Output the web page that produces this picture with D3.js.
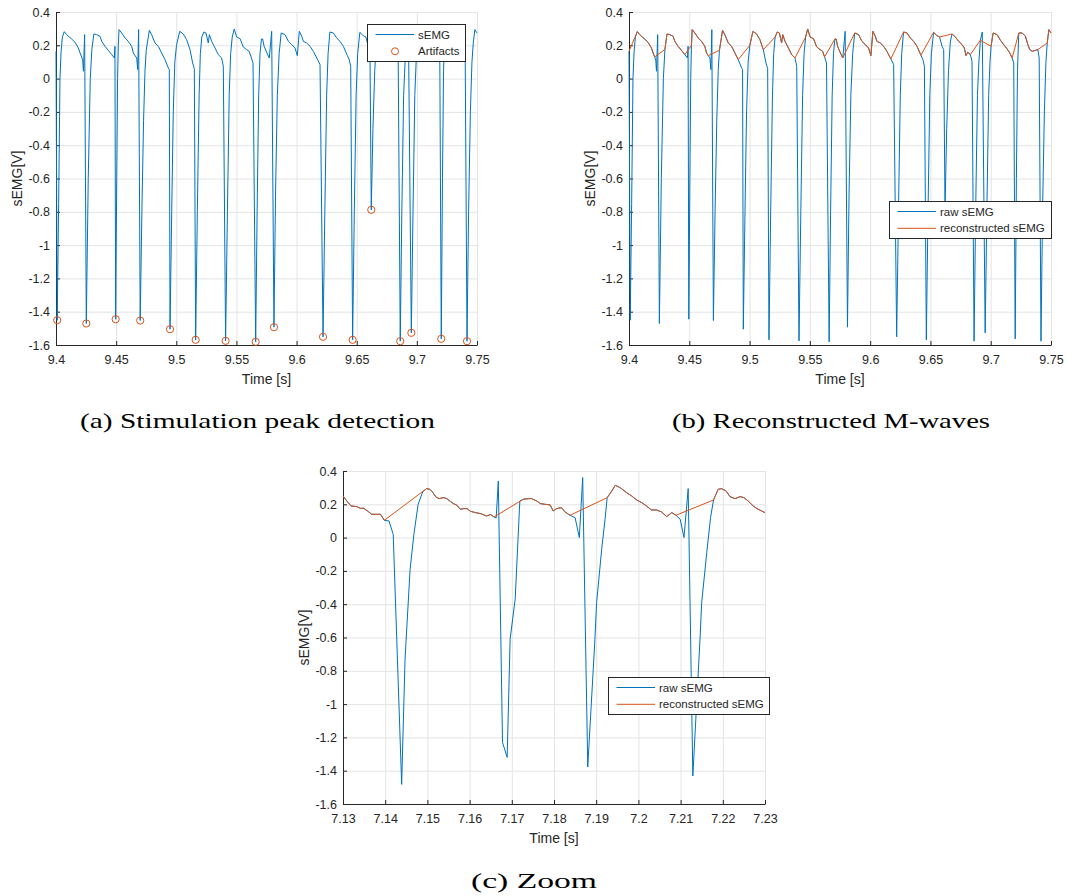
<!DOCTYPE html>
<html>
<head>
<meta charset="utf-8">
<script src="https://cdn.jsdelivr.net/npm/d3@7"></script>
<style>
body { margin: 0; background: #fff; }
svg { display: block; font-family: "Liberation Sans", Arial, sans-serif; }
</style>
</head>
<body>
<svg id="fig" width="1067" height="896"></svg>
<script>
// ---- data ----
const yTicks = [-1.6, -1.4, -1.2, -1, -0.8, -0.6, -0.4, -0.2, 0, 0.2, 0.4];
const xTicksAB = [9.4, 9.45, 9.5, 9.55, 9.6, 9.65, 9.7, 9.75];
const xTicksC = [7.13, 7.14, 7.15, 7.16, 7.17, 7.18, 7.19, 7.2, 7.21, 7.22, 7.23];

// raw sEMG, 9.40 - 9.75 s  [time, volts]
const semgAB = [
  [9.4000,0.164],[9.4010,-1.451],[9.4022,-0.750],[9.4033,0.000],[9.4042,0.160],[9.4053,0.250],[9.4069,0.282],
  [9.4089,0.264],[9.4110,0.250],[9.4130,0.238],[9.4158,0.218],[9.4186,0.184],[9.4200,0.154],[9.4213,0.130],
  [9.4222,0.110],[9.4228,0.044],[9.4238,0.264],[9.4252,-1.471],[9.4268,-0.600],[9.4285,0.000],[9.4298,0.175],
  [9.4315,0.268],[9.4338,0.264],[9.4366,0.254],[9.4380,0.224],[9.4407,0.194],[9.4435,0.170],[9.4463,0.144],
  [9.4485,0.124],[9.4490,0.194],[9.4496,-1.445],[9.4505,-0.600],[9.4512,0.000],[9.4518,0.200],
  [9.4524,0.294],[9.4546,0.274],[9.4574,0.244],[9.4601,0.224],[9.4629,0.194],[9.4643,0.154],[9.4657,0.138],
  [9.4671,0.124],[9.4679,0.054],[9.4687,0.294],[9.4700,-1.453],[9.4714,-0.800],[9.4728,-0.250],[9.4740,0.050],[9.4750,0.170],
  [9.4776,0.290],[9.4795,0.264],[9.4823,0.214],[9.4851,0.194],[9.4878,0.154],[9.4906,0.114],
  [9.4934,0.064],[9.4942,0.054],[9.4948,-1.505],[9.4962,-0.800],[9.4975,-0.200],[9.4988,0.100],[9.5002,0.200],
  [9.5028,0.284],[9.5058,0.268],[9.5086,0.234],[9.5114,0.174],
  [9.5136,0.094],[9.5150,0.060],[9.5161,-1.569],[9.5175,-0.800],[9.5190,-0.100],[9.5200,0.150],[9.5212,0.250],
  [9.5230,0.280],[9.5247,0.274],[9.5266,0.214],[9.5275,0.264],[9.5294,0.224],[9.5322,0.184],[9.5349,0.144],[9.5377,0.124],
  [9.5391,0.074],[9.5410,-1.575],[9.5425,-0.800],[9.5440,-0.100],[9.5452,0.150],[9.5465,0.250],
  [9.5482,0.298],[9.5502,0.250],[9.5530,0.240],[9.5557,0.190],[9.5585,0.174],[9.5605,0.165],[9.5622,0.130],
  [9.5638,0.094],[9.5660,-1.581],[9.5672,-0.800],[9.5685,-0.100],[9.5696,0.150],[9.5708,0.238],
  [9.5718,0.238],[9.5730,0.194],[9.5750,0.160],[9.5773,0.124],
  [9.5793,0.284],[9.5812,-1.493],[9.5825,-0.700],[9.5840,-0.100],[9.5855,0.150],[9.5872,0.274],
  [9.5904,0.264],[9.5932,0.224],[9.5960,0.204],[9.5987,0.184],[9.6006,0.138],[9.6023,0.284],[9.6043,0.254],
  [9.6056,0.224],[9.6084,0.214],[9.6112,0.194],[9.6139,0.164],[9.6172,0.118],
  [9.6195,0.084],[9.6220,-1.551],[9.6235,-0.800],[9.6250,-0.100],[9.6262,0.150],[9.6277,0.280],
  [9.6306,0.274],[9.6333,0.244],[9.6361,0.224],[9.6389,0.194],[9.6421,0.140],
  [9.6438,0.114],[9.6450,0.074],[9.6466,-1.569],[9.6480,-0.800],[9.6495,-0.100],[9.6508,0.150],[9.6526,0.278],
  [9.6554,0.258],[9.6576,0.250],
  [9.6596,0.194],[9.6610,0.174],[9.6621,-0.788],[9.6635,-0.300],[9.6650,0.050],[9.6665,0.220],[9.6679,0.268],
  [9.6707,0.250],[9.6734,0.224],[9.6762,0.204],[9.6781,0.184],[9.6795,0.138],[9.6809,0.158],[9.6831,0.144],
  [9.6845,0.104],[9.6862,-1.577],[9.6875,-0.800],[9.6890,-0.100],[9.6902,0.100],[9.6914,0.230],
  [9.6930,0.280],[9.6954,-1.527],[9.6968,-0.800],[9.6983,-0.100],[9.6994,0.100],[9.7003,0.194],
  [9.7020,0.274],[9.7053,0.264],[9.7081,0.230],[9.7108,0.204],[9.7136,0.178],[9.7158,0.154],[9.7178,0.124],
  [9.7191,0.094],[9.7203,-1.563],[9.7213,-0.600],[9.7222,0.050],[9.7233,0.274],
  [9.7261,0.274],[9.7288,0.254],[9.7308,0.204],[9.7324,0.174],[9.7344,0.164],[9.7372,0.170],[9.7391,0.174],
  [9.7402,0.124],[9.7417,-1.577],[9.7430,-0.800],[9.7445,-0.200],[9.7458,0.100],[9.7469,0.214],
  [9.7482,0.294],[9.7500,0.274]
];

// detected stimulation peaks
const artifacts = [
  [9.4010,-1.451],[9.4252,-1.471],[9.4496,-1.445],[9.4700,-1.453],[9.4948,-1.505],[9.5161,-1.569],
  [9.5410,-1.575],[9.5660,-1.581],[9.5812,-1.493],[9.6220,-1.551],[9.6466,-1.569],[9.6621,-0.788],
  [9.6862,-1.577],[9.6954,-1.527],[9.7203,-1.563],[9.7417,-1.577]
];

// blanked windows bridged by the reconstruction
const gapsAB = [
  [9.4000,9.4069],[9.4213,9.4298],[9.4463,9.4518],[9.4657,9.4750],[9.4906,9.5002],[9.5114,9.5212],
  [9.5377,9.5465],[9.5622,9.5708],[9.5773,9.5872],[9.6172,9.6277],[9.6421,9.6526],[9.6576,9.6679],
  [9.6831,9.6914],[9.6914,9.7003],[9.7178,9.7233],[9.7391,9.7469]
];

// raw sEMG, 7.13 - 7.23 s
const semgC = [
  [7.1300,0.250],[7.1309,0.220],[7.1319,0.190],[7.1333,0.186],[7.1341,0.176],[7.1349,0.176],[7.1358,0.160],
  [7.1368,0.140],[7.1378,0.140],[7.1389,0.140],[7.1398,0.104],
  [7.1409,0.100],[7.1419,0.020],[7.1439,-1.482],[7.1447,-0.730],[7.1459,-0.190],[7.1468,0.020],[7.1478,0.200],[7.1489,0.275],
  [7.1498,0.294],[7.1506,0.290],[7.1512,0.274],[7.1520,0.244],[7.1528,0.234],[7.1538,0.240],[7.1546,0.234],
  [7.1554,0.218],[7.1562,0.204],[7.1570,0.194],[7.1578,0.170],[7.1586,0.174],[7.1594,0.174],[7.1602,0.158],
  [7.1614,0.150],[7.1626,0.144],[7.1640,0.130],[7.1650,0.138],[7.1658,0.124],
  [7.1663,0.118],[7.1668,0.340],[7.1678,-1.230],[7.1689,-1.320],[7.1696,-0.610],[7.1708,-0.370],[7.1719,0.220],
  [7.1727,0.230],[7.1739,0.234],[7.1747,0.234],[7.1759,0.220],[7.1768,0.204],[7.1779,0.200],[7.1791,0.196],
  [7.1798,0.160],[7.1806,0.174],[7.1818,0.180],[7.1826,0.154],[7.1838,0.134],
  [7.1850,0.120],[7.1860,0.000],[7.1868,0.360],[7.1880,-1.378],[7.1897,-0.610],[7.1901,-0.390],[7.1913,-0.070],
  [7.1921,0.110],[7.1926,0.240],
  [7.1937,0.280],[7.1945,0.314],[7.1952,0.306],[7.1960,0.294],[7.1972,0.270],[7.1984,0.250],[7.1996,0.226],
  [7.2008,0.210],[7.2019,0.190],[7.2031,0.166],[7.2043,0.166],[7.2055,0.154],[7.2067,0.126],[7.2079,0.150],[7.2089,0.134],
  [7.2099,0.110],[7.2108,0.000],[7.2118,0.294],[7.2129,-1.432],[7.2146,-0.610],[7.2150,-0.390],[7.2162,-0.090],
  [7.2171,0.120],[7.2178,0.226],
  [7.2189,0.290],[7.2197,0.294],[7.2208,0.280],[7.2217,0.246],[7.2229,0.234],[7.2241,0.246],[7.2250,0.240],
  [7.2260,0.220],[7.2272,0.190],[7.2281,0.174],[7.2292,0.160],[7.2300,0.150]
];
const gapsC = [[7.1398,7.1498],[7.1658,7.1727],[7.1838,7.1926],[7.2089,7.2178]];

// ---- styling ----
const blue = '#0072BD';
const orange = '#D95319';
const ink = '#262626';
const gridCol = '#e4e4e4';
const yDomain = [-1.6, 0.4];
const fmt = d => String(+d.toFixed(2));

const svg = d3.select('#fig');

// reconstruction: drop samples strictly inside a blanked window, the line bridges it
function reconstruct(data, gaps) {
  return data.filter(([t]) => !gaps.some(([a, b]) => t > a && t < b));
}

function drawPanel(cfg) {
  const x = d3.scaleLinear().domain(cfg.xDomain).range([cfg.left, cfg.right]);
  const y = d3.scaleLinear().domain(yDomain).range([cfg.bottom, cfg.top]);
  const g = svg.append('g');

  // grid
  const $grid = g.append('g').attr('stroke', gridCol).attr('stroke-width', 1);
  $grid.selectAll('.gx').data(cfg.xTicks).join('line').attr('class', 'gx')
    .attr('x1', d => x(d) + 0.5).attr('x2', d => x(d) + 0.5)
    .attr('y1', cfg.top).attr('y2', cfg.bottom);
  $grid.selectAll('.gy').data(yTicks).join('line').attr('class', 'gy')
    .attr('y1', d => y(d) + 0.5).attr('y2', d => y(d) + 0.5)
    .attr('x1', cfg.left).attr('x2', cfg.right);

  // axes (inward ticks, box off)
  const $xa = g.append('g').attr('transform', `translate(0,${cfg.bottom})`)
    .call(d3.axisBottom(x).tickValues(cfg.xTicks).tickFormat(fmt).tickSize(-4).tickSizeOuter(0).tickPadding(10));
  const $ya = g.append('g').attr('transform', `translate(${cfg.left},0)`)
    .call(d3.axisLeft(y).tickValues(yTicks).tickFormat(fmt).tickSize(-4).tickSizeOuter(0).tickPadding(6));
  [$xa, $ya].forEach($a => {
    $a.attr('font-family', null).attr('font-size', 12.5);
    $a.select('.domain').attr('stroke', ink);
    $a.selectAll('.tick line').attr('stroke', ink);
    $a.selectAll('.tick text').attr('fill', ink);
  });

  // axis labels
  g.append('text')
    .attr('x', (cfg.left + cfg.right) / 2).attr('y', cfg.bottom + 39)
    .attr('text-anchor', 'middle').attr('font-size', 14).attr('fill', ink)
    .text('Time [s]');
  g.append('text')
    .attr('transform', `translate(${cfg.left - 34},${(cfg.top + cfg.bottom) / 2}) rotate(-90)`)
    .attr('text-anchor', 'middle').attr('font-size', 14).attr('fill', ink)
    .text('sEMG[V]');

  const line = d3.line().x(d => x(d[0])).y(d => y(d[1]));
  return { g, x, y, line };
}

function drawLegend(g, box, items) {
  const $l = g.append('g');
  $l.append('rect')
    .attr('x', box.x + 0.5).attr('y', box.y + 0.5).attr('width', box.w).attr('height', box.h)
    .attr('fill', '#fff').attr('stroke', ink).attr('stroke-width', 1);
  items.forEach((it, i) => {
    const cy = box.y + 10.5 + i * 16.8;
    if (it.type === 'line') {
      $l.append('line')
        .attr('x1', box.x + 8.5).attr('x2', box.x + 47).attr('y1', cy).attr('y2', cy)
        .attr('stroke', it.color).attr('stroke-width', 1);
    } else {
      $l.append('circle')
        .attr('cx', box.x + 28).attr('cy', cy).attr('r', 3.5)
        .attr('fill', 'none').attr('stroke', it.color).attr('stroke-width', 1);
    }
    $l.append('text')
      .attr('x', box.x + 51).attr('y', cy).attr('dy', '0.35em')
      .attr('font-size', 11.5).attr('fill', ink).text(it.label);
  });
}

function caption(text, cx, y, width) {
  svg.append('text')
    .attr('x', cx).attr('y', y).attr('text-anchor', 'middle')
    .attr('font-family', '"Liberation Serif", "DejaVu Serif", serif')
    .attr('font-size', 22).attr('fill', '#000')
    .attr('textLength', width).attr('lengthAdjust', 'spacingAndGlyphs')
    .text(text);
}

// (a) stimulation peak detection
const pa = drawPanel({ left: 56, right: 477, top: 12, bottom: 345, xDomain: [9.4, 9.75], xTicks: xTicksAB });
pa.g.append('path').datum(semgAB)
  .attr('d', pa.line).attr('fill', 'none').attr('stroke', blue).attr('stroke-width', 1).attr('stroke-linejoin', 'round');
pa.g.append('g').selectAll('circle').data(artifacts).join('circle')
  .attr('cx', d => pa.x(d[0])).attr('cy', d => pa.y(d[1])).attr('r', 3.6)
  .attr('fill', 'none').attr('stroke', orange).attr('stroke-width', 1);
drawLegend(pa.g, { x: 367, y: 24, w: 98, h: 37 }, [
  { label: 'sEMG', type: 'line', color: blue },
  { label: 'Artifacts', type: 'circle', color: orange }
]);

// (b) reconstructed M-waves
const pb = drawPanel({ left: 629, right: 1051, top: 12, bottom: 345, xDomain: [9.4, 9.75], xTicks: xTicksAB });
pb.g.append('path').datum(semgAB)
  .attr('d', pb.line).attr('fill', 'none').attr('stroke', blue).attr('stroke-width', 1).attr('stroke-linejoin', 'round');
pb.g.append('path').datum(reconstruct(semgAB, gapsAB))
  .attr('d', pb.line).attr('fill', 'none').attr('stroke', orange).attr('stroke-width', 1).attr('stroke-linejoin', 'round');
drawLegend(pb.g, { x: 889, y: 201, w: 162, h: 37 }, [
  { label: 'raw sEMG', type: 'line', color: blue },
  { label: 'reconstructed sEMG', type: 'line', color: orange }
]);

// (c) zoom
const pc = drawPanel({ left: 343, right: 765, top: 471, bottom: 804, xDomain: [7.13, 7.23], xTicks: xTicksC });
pc.g.append('path').datum(semgC)
  .attr('d', pc.line).attr('fill', 'none').attr('stroke', blue).attr('stroke-width', 1).attr('stroke-linejoin', 'round');
pc.g.append('path').datum(reconstruct(semgC, gapsC))
  .attr('d', pc.line).attr('fill', 'none').attr('stroke', orange).attr('stroke-width', 1).attr('stroke-linejoin', 'round');
drawLegend(pc.g, { x: 608, y: 677, w: 161, h: 37 }, [
  { label: 'raw sEMG', type: 'line', color: blue },
  { label: 'reconstructed sEMG', type: 'line', color: orange }
]);

caption('(a) Stimulation peak detection', 257.5, 428, 355);
caption('(b) Reconstructed M-waves', 831, 428, 318);
caption('(c) Zoom', 534, 888, 126);
</script>
</body>
</html>
